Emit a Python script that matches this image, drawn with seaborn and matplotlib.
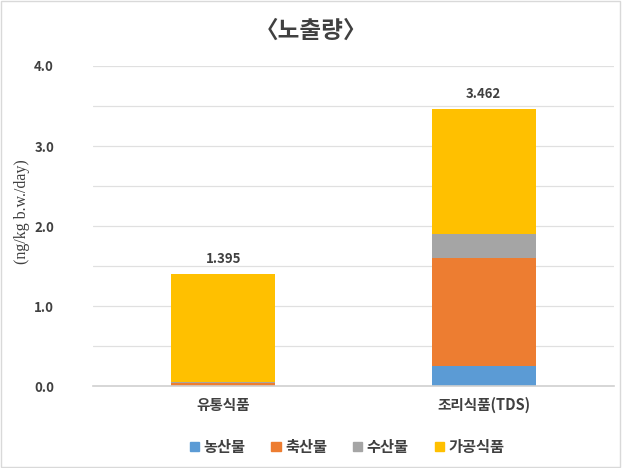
import matplotlib
matplotlib.use("Agg")
import matplotlib.pyplot as plt
import seaborn as sns
import numpy as np
import pandas as pd
from matplotlib.patches import Rectangle, Patch

categories = ["유통식품", "조리식품(TDS)"]
series_names = ["농산물", "축산물", "수산물", "가공식품"]
agri = [0.005, 0.25]
livestock = [0.03, 1.35]
fish = [0.01, 0.295]
processed = [1.35, 1.567]
totals = [1.395, 3.462]
colors = ["#5B9BD5", "#ED7D31", "#A5A5A5", "#FFC000"]

sns.set_theme(style="white")
plt.rcParams['font.family'] = ['Noto Sans CJK KR', 'DejaVu Sans']

fig = plt.figure(figsize=(6.22, 4.68), dpi=100)
ax = fig.add_axes([0.1495, 0.175, 0.8375, 0.684])

vals = [agri, livestock, fish, processed]
bottom = np.zeros(len(categories))
for name, v, c in zip(series_names, vals, colors):
    df = pd.DataFrame({"cat": categories, "val": v})
    sns.barplot(data=df, x="cat", y="val", color=c, width=0.4, ax=ax,
                bottom=bottom, saturation=1, linewidth=0, errorbar=None)
    bottom = bottom + np.array(v)

for i, t in enumerate(totals):
    ax.text(i, t + 0.1, f"{t:.3f}", ha="center", va="bottom",
            fontsize=9.5, fontweight="bold", color="#404040")

ax.set_xlim(-0.5, 1.5)
ax.set_ylim(0, 4.0)
ax.set_yticks(np.arange(0, 4.01, 0.5))
ax.set_yticklabels([f"{v:.1f}" if abs(v - round(v)) < 1e-9 else "" for v in np.arange(0, 4.01, 0.5)])
ax.yaxis.grid(True, color="#E0E0E0", linewidth=0.9)
ax.set_axisbelow(True)
for s in ["top", "right", "left"]:
    ax.spines[s].set_visible(False)
ax.spines["bottom"].set_color("#D0D0D0")
ax.spines["bottom"].set_linewidth(1.2)
ax.tick_params(axis="y", length=0, pad=28, labelsize=9.5, labelcolor="#404040")
for lbl in ax.get_yticklabels():
    lbl.set_fontweight("bold")
ax.tick_params(axis="x", length=0, pad=8, labelsize=10.5, labelcolor="#404040")
for lbl in ax.get_xticklabels():
    lbl.set_fontweight("bold")
ax.set_xlabel("")
ax.set_ylabel("(ng/kg b.w./day)", family=["Liberation Serif", "DejaVu Serif"],
              fontsize=11.5, color="#404040")
ax.yaxis.set_label_coords(-0.121, 0.544)

fig.text(0.5, 0.935, "〈노출량〉", ha="center", va="center", fontsize=17,
         fontweight="bold", color="#404040")

handles = [Patch(color=c) for c in colors]
fig.legend(handles, series_names, loc="center", bbox_to_anchor=(0.558, 0.045),
           ncol=4, frameon=False, handlelength=0.6, handleheight=0.6,
           columnspacing=1.7, handletextpad=0.3, labelcolor="#404040",
           prop={"weight": "bold", "size": 11})

fig.patches.append(Rectangle((0.002, 0.003), 0.995, 0.994, transform=fig.transFigure,
                             fill=False, edgecolor="#D9D9D9", linewidth=1))

fig.savefig("out.png", dpi=100)
